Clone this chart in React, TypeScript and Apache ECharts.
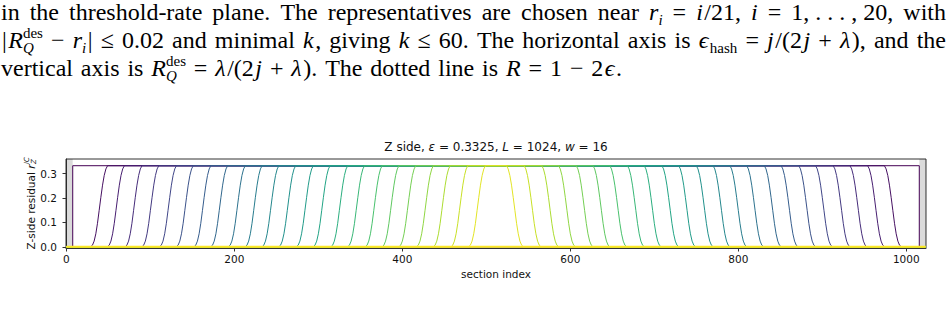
import React, { useEffect, useRef } from "react";
import * as echarts from "echarts";

// ---------------- chart data ----------------
const EPS = 0.3325;
const L_SECTIONS = 1024;
const X_TICKS = [0, 200, 400, 600, 800, 1000];
const Y_TICKS = [0, 0.1, 0.2, 0.3];
// boundary sections (held known) shaded grey
const BAND_LEFT = [-0.5, 7.5];
const BAND_RIGHT = [1015.5, 1023.5];
// first snapshot: residual eps on every non-boundary section
const FIRST_EDGES = [7.5, 1015.5];
// following snapshots: foot of the left (rising) front and foot of the right (falling) front
const FRONT_LEFT = [29, 49, 70, 90, 111, 131, 152, 172, 193, 213, 233, 253, 274, 294, 315, 335, 356, 376, 396, 417, 437, 458, 479];
const FRONT_RIGHT = [994, 974, 953, 933, 912, 892, 871, 851, 830, 810, 790, 770, 749, 729, 708, 688, 667, 647, 627, 606, 586, 565, 544];
// shape of a front: offset (sections) from the foot -> fraction of eps
const RAMP_OFFSETS = [0, 2, 4, 6, 8, 10, 12, 14, 16, 18, 20];
const RAMP_LEVELS = [0, 0.02, 0.07, 0.16, 0.29, 0.45, 0.61, 0.76, 0.88, 0.96, 1];
// last snapshot: everything recovered
const FINAL_LEVEL = 0;

// ---------------- paper text ----------------
type Seg = [string, string];
const LINE1: Seg[][] = [
  [["in", "rm"]], [["the", "rm"]], [["threshold-rate", "rm"]], [["plane.", "rm"]], [["The", "rm"]],
  [["representatives", "rm"]], [["are", "rm"]], [["chosen", "rm"]], [["near", "rm"]],
  [["r", "it"], ["i", "si"]], [["=", "rm"]], [["i", "it"], ["/21,", "rm"]], [["i", "it"]], [["=", "rm"]],
  [["1, . . . , 20,", "rm"]], [["with", "rm"]],
];
const LINE2: Seg[][] = [
  [["|", "rm"], ["R", "it"], ["des", "up"], ["Q", "si"]], [["−", "rm"]], [["r", "it"], ["i", "si"], ["|", "rm"]],
  [["≤", "rm"]], [["0.02", "rm"]], [["and", "rm"]], [["minimal", "rm"]], [["k", "it"], [",", "rm"]],
  [["giving", "rm"]], [["k", "it"]], [["≤", "rm"]], [["60.", "rm"]], [["The", "rm"]], [["horizontal", "rm"]],
  [["axis", "rm"]], [["is", "rm"]], [["ϵ", "it"], ["hash", "sb"]], [["=", "rm"]],
  [["j", "it"], ["/(2", "rm"], ["j", "it"]], [["+", "rm"]], [["λ", "it"], ["),", "rm"]], [["and", "rm"]], [["the", "rm"]],
];
const LINE3: Seg[][] = [
  [["vertical", "rm"]], [["axis", "rm"]], [["is", "rm"]], [["R", "it"], ["des", "up"], ["Q", "si"]], [["=", "rm"]],
  [["λ", "it"], ["/(2", "rm"], ["j", "it"]], [["+", "rm"]], [["λ", "it"], [").", "rm"]], [["The", "rm"]],
  [["dotted", "rm"]], [["line", "rm"]], [["is", "rm"]], [["R", "it"]], [["=", "rm"]], [["1", "rm"]], [["−", "rm"]],
  [["2", "rm"], ["ϵ", "it"], [".", "rm"]],
];
const PAPER_LINES = [LINE1, LINE2, LINE3];

// ---------------- styling helpers ----------------
const SERIF = "'Liberation Serif', 'DejaVu Serif', serif";
const SANS = "'DejaVu Sans', sans-serif";
const PAPER_STYLE: Record<string, { size: number; italic: boolean; dy: number }> = {
  rm: { size: 24, italic: false, dy: 0 },
  it: { size: 24, italic: true, dy: 0 },
  sb: { size: 15, italic: false, dy: 5 },
  si: { size: 15, italic: true, dy: 5 },
  up: { size: 15, italic: false, dy: -10 },
};
const PAPER_LAYOUT = [
  { x0: 1, x1: 946, base: 20 },
  { x0: 2, x1: 946, base: 48 },
  { x0: 1, x1: 622, base: 76 },
];

const VIRIDIS = ["#440154", "#482475", "#414487", "#355f8d", "#2a788e", "#21918c", "#22a884", "#44bf70", "#7ad151", "#bddf26", "#fde725"];
function viridis(t: number): string {
  const p = Math.max(0, Math.min(1, t)) * 10;
  const i = Math.min(9, Math.floor(p));
  const f = p - i;
  const a = VIRIDIS[i], b = VIRIDIS[i + 1];
  const ch = (h: string, k: number) => parseInt(h.slice(1 + 2 * k, 3 + 2 * k), 16);
  const c = [0, 1, 2].map((k) => Math.round(ch(a, k) * (1 - f) + ch(b, k) * f));
  return "rgb(" + c.join(",") + ")";
}

let measureCtx: CanvasRenderingContext2D | null = null;
function measure(text: string, font: string): number {
  if (!measureCtx) measureCtx = document.createElement("canvas").getContext("2d");
  if (!measureCtx) return text.length * 10;
  measureCtx.font = font;
  return measureCtx.measureText(text).width;
}
const fontOf = (s: { size: number; italic: boolean }, fam: string) => (s.italic ? "italic " : "") + s.size + "px " + fam;

function textEl(x: number, y: number, text: string, size: number, italic: boolean, fam: string, align = "left", color = "#111") {
  return {
    type: "text",
    x,
    y,
    silent: true,
    style: {
      text,
      fontSize: size,
      fontFamily: fam,
      fontStyle: italic ? "italic" : "normal",
      fill: color,
      align,
      textAlign: align,
      verticalAlign: "middle",
      textVerticalAlign: "middle",
    },
  };
}

function layoutPaperLine(words: Seg[][], lay: { x0: number; x1: number; base: number }) {
  const wordWidths: number[] = [];
  const placed: { dx: number; seg: Seg }[][] = [];
  for (const w of words) {
    let adv = 0;
    let stackX: number | null = null;
    let stackW = 0;
    let prevItalic: boolean | null = null;
    const items: { dx: number; seg: Seg }[] = [];
    for (const seg of w) {
      const st = PAPER_STYLE[seg[1]];
      const wd = measure(seg[0], fontOf(st, SERIF));
      // small italic correction between roman and italic glyphs
      if (prevItalic !== null && prevItalic !== st.italic && seg[1] !== "up" && stackX === null) adv += 1.5;
      if (seg[1] === "up") {
        stackX = adv;
        stackW = wd;
        items.push({ dx: adv, seg });
      } else if (stackX !== null) {
        items.push({ dx: stackX, seg });
        adv = stackX + Math.max(wd, stackW);
        stackX = null;
      } else {
        items.push({ dx: adv, seg });
        adv += wd;
      }
      prevItalic = st.italic;
    }
    wordWidths.push(adv);
    placed.push(items);
  }
  const total = wordWidths.reduce((a, b) => a + b, 0);
  const gap = (lay.x1 - lay.x0 - total) / Math.max(1, words.length - 1);
  const els: any[] = [];
  let x = lay.x0;
  placed.forEach((items, wi) => {
    for (const it of items) {
      const st = PAPER_STYLE[it.seg[1]];
      const base = lay.base + st.dy;
      els.push(textEl(x + it.dx, base - 0.34 * st.size, it.seg[0], st.size, st.italic, SERIF, "left", "#000"));
    }
    x += wordWidths[wi] + gap;
  });
  return els;
}

function buildSeries() {
  const n = FRONT_LEFT.length + 2;
  const series: any[] = [];
  const common = { type: "line", showSymbol: false, symbol: "none", silent: true, animation: false };
  // snapshot 0
  series.push({
    ...common,
    name: "t0",
    lineStyle: { width: 1, color: viridis(0) },
    data: [[0, 0], [FIRST_EDGES[0], 0], [FIRST_EDGES[0], EPS], [FIRST_EDGES[1], EPS], [FIRST_EDGES[1], 0], [L_SECTIONS - 1, 0]],
    markArea: {
      silent: true,
      itemStyle: { color: "rgba(0,0,0,0.14)" },
      data: [
        [{ xAxis: BAND_LEFT[0] }, { xAxis: BAND_LEFT[1] }],
        [{ xAxis: BAND_RIGHT[0] }, { xAxis: BAND_RIGHT[1] }],
      ],
    },
  });
  FRONT_LEFT.forEach((fl, k) => {
    const fr = FRONT_RIGHT[k];
    const pts: number[][] = [[0, 0]];
    RAMP_OFFSETS.forEach((o, j) => pts.push([fl + o, EPS * RAMP_LEVELS[j]]));
    for (let j = RAMP_OFFSETS.length - 1; j >= 0; j--) pts.push([fr - RAMP_OFFSETS[j], EPS * RAMP_LEVELS[j]]);
    pts.push([L_SECTIONS - 1, 0]);
    series.push({ ...common, name: "t" + (k + 1), lineStyle: { width: 1, color: viridis((k + 1) / (n - 1)) }, data: pts });
  });
  series.push({
    ...common,
    name: "final",
    lineStyle: { width: 2, color: viridis(1) },
    data: [[0, FINAL_LEVEL], [L_SECTIONS - 1, FINAL_LEVEL]],
  });
  return series;
}

function buildGraphics() {
  const els: any[] = [];
  PAPER_LINES.forEach((ln, i) => els.push(...layoutPaperLine(ln, PAPER_LAYOUT[i])));
  // title
  els.push({
    type: "text",
    x: 496,
    y: 146.5,
    silent: true,
    style: {
      text: "Z side, {i|ε} = 0.3325, {i|L} = 1024, {i|w} = 16",
      fontSize: 12,
      fontFamily: SANS,
      fill: "#111",
      align: "center",
      textAlign: "center",
      verticalAlign: "middle",
      textVerticalAlign: "middle",
      rich: { i: { fontStyle: "italic", fontSize: 12, fontFamily: SANS, fill: "#111" } },
    },
  });
  // x axis name
  els.push(textEl(496, 274, "section index", 10.5, false, SANS, "center", "#111"));
  // y axis name (rotated)
  const main = "Z-side residual ";
  const w1 = measure(main, "10.5px " + SANS);
  const wr = measure("r", "italic 10.5px " + SANS);
  const ws = Math.max(measure("Z", "italic 7px " + SANS), measure("IC", "italic 7px " + SANS));
  const total = w1 + wr + ws;
  els.push({
    type: "group",
    x: 31,
    y: 203.5 + total / 2,
    rotation: Math.PI / 2,
    silent: true,
    children: [
      textEl(0, 0, main, 10.5, false, SANS, "left", "#111"),
      textEl(w1, 0, "r", 10.5, true, SANS, "left", "#111"),
      textEl(w1 + wr + 0.5, 3, "Z", 7, true, SANS, "left", "#111"),
      textEl(w1 + wr + 0.5, -4.5, "IC", 7, true, SANS, "left", "#111"),
    ],
  });
  return els;
}

function buildOption() {
  return {
    animation: false,
    backgroundColor: "#ffffff",
    grid: { left: 66, top: 159, width: 860, height: 89, show: true, borderColor: "#333", borderWidth: 1, backgroundColor: "transparent" },
    xAxis: {
      type: "value",
      min: -0.5,
      max: 1023.5,
      axisLine: { show: true, onZero: false, lineStyle: { color: "#333", width: 1 } },
      axisTick: { show: true, length: 3.5, customValues: X_TICKS, lineStyle: { color: "#333", width: 1 } },
      axisLabel: { customValues: X_TICKS, fontSize: 10.5, fontFamily: SANS, color: "#111", margin: 5, formatter: (v: number) => String(v) },
      splitLine: { show: false },
    },
    yAxis: {
      type: "value",
      min: -0.005,
      max: 0.36,
      axisLine: { show: true, onZero: false, lineStyle: { color: "#333", width: 1 } },
      axisTick: { show: true, length: 3.5, customValues: Y_TICKS, lineStyle: { color: "#333", width: 1 } },
      axisLabel: { customValues: Y_TICKS, fontSize: 10.5, fontFamily: SANS, color: "#111", margin: 9, formatter: (v: number) => v.toFixed(1) },
      splitLine: { show: false },
    },
    series: buildSeries(),
    graphic: { elements: buildGraphics() },
  };
}

export default function App() {
  const ref = useRef<HTMLDivElement>(null);
  useEffect(() => {
    if (!ref.current) return;
    const chart = echarts.init(ref.current, null, { renderer: "svg" });
    chart.setOption(buildOption() as any);
    return () => chart.dispose();
  }, []);
  return <div ref={ref} style={{ position: "fixed", left: 0, top: 0, width: 949, height: 319, background: "#fff" }} />;
}
